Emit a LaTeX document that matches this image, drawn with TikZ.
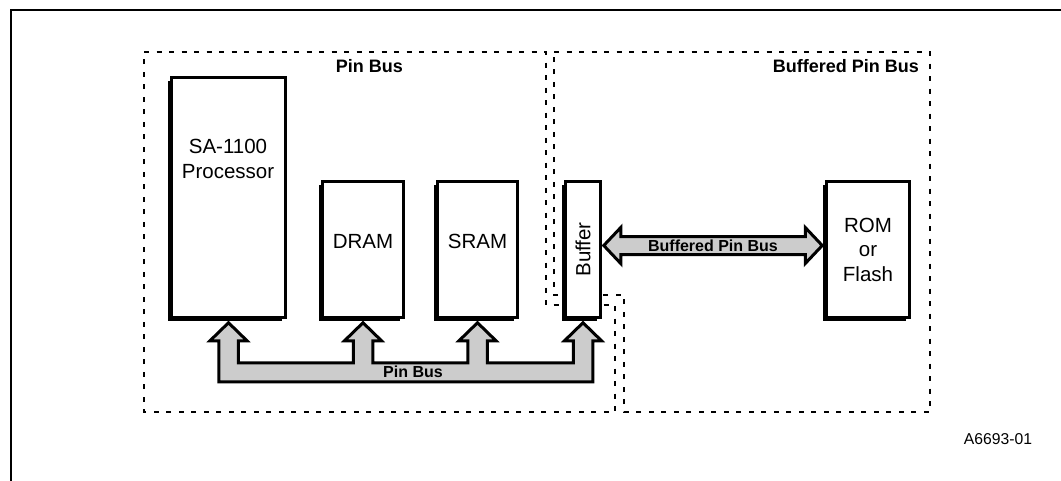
\documentclass[tikz,border=0pt]{standalone}
\usepackage{fontspec}
\setmainfont{Liberation Sans}
\usepackage{tikz}
\usetikzlibrary{calc, shadows}
\definecolor{BusGray}{RGB}{204,204,204}

\begin{document}
\begin{tikzpicture}[x=1pt, y=-1pt,
          chip/.style={rectangle, draw, line width=2.5pt, fill=white, inner sep=0pt,
                       drop shadow={shadow xshift=-4pt, shadow yshift=-3.5pt,
                                    fill=black, opacity=1},
                       font=\fontsize{20.5}{24.5}\selectfont, align=center},
          chiptext/.style={font=\fontsize{20.5}{24.5}\selectfont, align=center},
          region/.style={line width=2.6pt, dash pattern=on 5pt off 7.5pt},
          regionlbl/.style={anchor=east, inner sep=0pt, font=\fontsize{18}{20}\selectfont\bfseries},
          bus/.style={fill=BusGray, draw, line width=3pt, line join=miter},
          buslbl/.style={inner sep=0pt, font=\fontsize{16}{18}\selectfont\bfseries}
        ]
        \useasboundingbox (0,0) rectangle (1061,480);

        % Frame
        \draw[line width=2.6pt] (11,482) -- (11,10) -- (1063,10);

        % Bus regions
        \draw[region] (144,52) -- (546,52) -- (546,305) -- (615,305)
              -- (615,412) -- (144,412) -- cycle;
        \draw[region] (554,52) -- (930,52) -- (930,412) -- (624,412)
              -- (624,295) -- (554,295) -- cycle;
        \node[regionlbl] (pinlbl) at (403,66) {Pin Bus};
        \node[regionlbl] (bpinlbl) at (919,66) {Buffered Pin Bus};

        % Devices
        \node[chip, minimum width=114pt, minimum height=240pt] (cpu) at (228.5,197.5) {};
        \node[chiptext] (cputxt) at (228,159) {SA-1100\\Processor};
        \node[chip, minimum width=81pt, minimum height=136pt,
              label={[chiptext, yshift=8pt]center:DRAM}] (dram) at (363,249.5) {};
        \node[chip, minimum width=80pt, minimum height=136pt,
              label={[chiptext, yshift=8pt]center:SRAM}] (sram) at (477.5,249.5) {};
        \node[chip, minimum width=35pt, minimum height=136pt] (buf) at (583,249.5)
              {\rotatebox{90}{Buffer}};
        \node[chip, minimum width=83pt, minimum height=136pt] (rom) at (868,249.5)
              {ROM\\or\\Flash};

        % Pin bus
        \draw[bus] ($(cpu.south)+(-9.75,63)$)
              \foreach \n in {cpu,dram,sram,buf}{
                -- ($(\n.south)+(-9.75,44)$) -- ++(0,-22) -- ++(-8.75,0)
                -- ($(\n.south)+(0,4)$) -- ++(18.5,18) -- ++(-8.75,0) -- ++(0,22)
              } -- ++(0,19) -- cycle;
        \node[buslbl] (pinbus) at (413,372) {Pin Bus};

        % Buffered pin bus
        \coordinate (bl) at ($(buf.east)+(2,-4)$);
        \coordinate (br) at ($(rom.west)+(-3,-4)$);
        \draw[bus] (bl) -- ++(17,-18) -- ++(0,9) -- ($(br)+(-17,-9)$) -- ++(0,-9)
              -- (br) -- ++(-17,18) -- ++(0,-9) -- ($(bl)+(17,9)$) -- ++(0,9) -- cycle;
        \node[buslbl] (bpinbus) at ($(bl)!0.5!(br)$) {Buffered Pin Bus};

        \node[font=\fontsize{15.7}{18}\selectfont] (fig) at (998,439) {A6693-01};
      \end{tikzpicture}
\end{document}
